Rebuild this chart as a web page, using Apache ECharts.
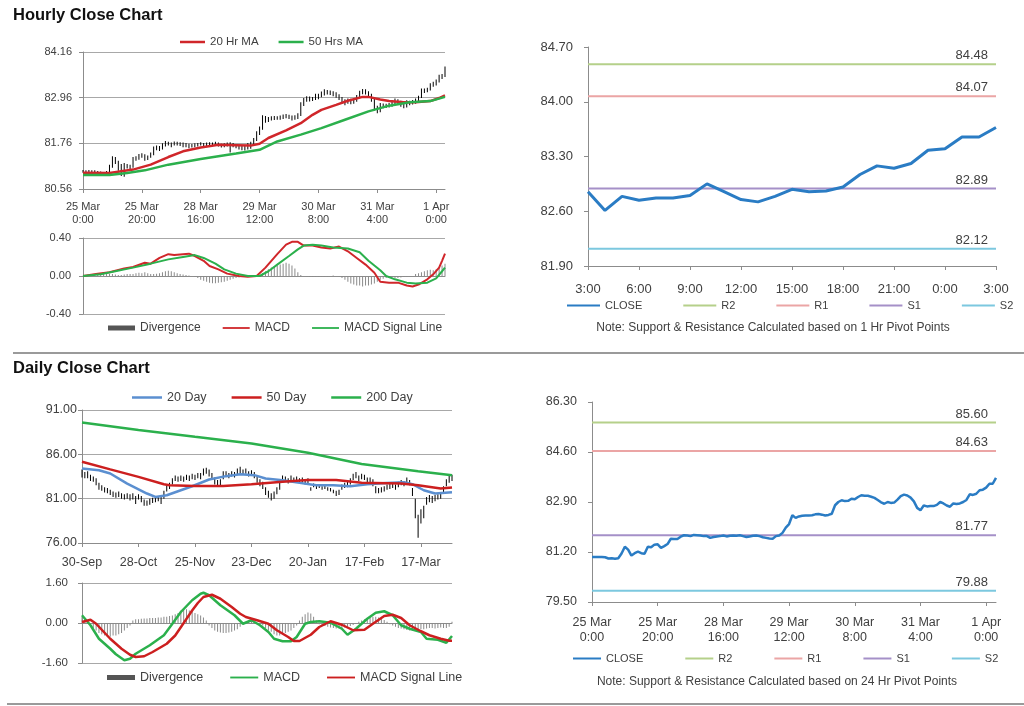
<!DOCTYPE html>
<html><head><meta charset="utf-8">
<script src="https://cdn.jsdelivr.net/npm/echarts@6/dist/echarts.min.js"></script>
<style>html,body{margin:0;padding:0;background:#fff}#c{width:1024px;height:706px}</style>
</head><body><div id="c"></div>
<script>
// ---------------- DATA ----------------
const hourlyTickLabels = ['25 Mar\n0:00','25 Mar\n20:00','28 Mar\n16:00','29 Mar\n12:00','30 Mar\n8:00','31 Mar\n4:00','1 Apr\n0:00'];
const pivotTickLabels = ['3:00','6:00','9:00','12:00','15:00','18:00','21:00','0:00','3:00'];
const dailyTickLabels = ['30-Sep','28-Oct','25-Nov','23-Dec','20-Jan','17-Feb','17-Mar'];

const hourlyPriceTicks = [80.56, 81.76, 82.96, 84.16];
const hourlyMacdTicks = [-0.4, 0, 0.4];
const pivotHourTicks = [81.9, 82.6, 83.3, 84.0, 84.7];
const dailyPriceTicks = [76, 81, 86, 91];
const dailyMacdTicks = [-1.6, 0, 1.6];
const pivotDayTicks = [79.5, 81.2, 82.9, 84.6, 86.3];

const hourlyClose = [81.03,81.03,81.03,81.03,81.02,80.98,80.99,80.97,80.99,81.15,
 81.38,81.28,81.08,81.16,81.21,81.16,81.14,81.38,81.36,81.45,
 81.46,81.34,81.40,81.47,81.65,81.64,81.64,81.72,81.77,81.76,
 81.74,81.78,81.77,81.76,81.74,81.74,81.68,81.71,81.73,81.74,
 81.76,81.73,81.75,81.76,81.75,81.77,81.74,81.71,81.73,81.75,
 81.76,81.74,81.70,81.68,81.66,81.65,81.74,81.76,81.85,82.03,
 82.15,82.45,82.36,82.41,82.43,82.44,82.44,82.45,82.48,82.49,
 82.47,82.44,82.46,82.50,82.79,82.90,82.96,82.93,82.94,83.01,
 82.99,83.07,83.13,83.11,83.11,83.08,83.04,82.97,82.89,82.84,
 82.90,82.87,82.88,82.98,83.10,83.15,83.12,83.05,82.92,82.70,
 82.62,82.78,82.75,82.76,82.76,82.80,82.90,82.85,82.78,82.74,
 82.85,82.83,82.85,82.90,82.97,83.16,83.14,83.18,83.30,83.32,
 83.39,83.52,83.52,83.72];
const hourlyHigh = [81.06,81.05,81.06,81.05,81.05,81.03,81.02,81.01,81.03,81.20,
 81.42,81.40,81.30,81.22,81.24,81.22,81.20,81.40,81.42,81.48,
 81.50,81.47,81.44,81.52,81.68,81.70,81.69,81.76,81.82,81.80,
 81.78,81.81,81.80,81.79,81.78,81.77,81.75,81.74,81.76,81.77,
 81.79,81.77,81.78,81.79,81.78,81.80,81.78,81.75,81.76,81.78,
 81.79,81.77,81.74,81.72,81.70,81.69,81.77,81.80,81.90,82.08,
 82.20,82.50,82.48,82.45,82.47,82.48,82.47,82.49,82.52,82.53,
 82.51,82.49,82.50,82.55,82.84,82.95,83.00,82.99,82.98,83.06,
 83.06,83.12,83.18,83.16,83.15,83.13,83.10,83.05,82.98,82.92,
 82.94,82.93,82.93,83.03,83.14,83.19,83.18,83.13,83.06,82.95,
 82.75,82.82,82.81,82.80,82.82,82.85,82.94,82.92,82.88,82.80,
 82.89,82.88,82.90,82.94,83.01,83.20,83.20,83.22,83.34,83.38,
 83.44,83.56,83.58,83.78];
const hourlyLow = [80.99,81.00,81.00,80.99,80.99,80.96,80.96,80.95,80.96,80.98,
 81.12,81.22,81.04,80.90,80.88,81.10,81.08,81.12,81.30,81.33,
 81.38,81.30,81.32,81.38,81.45,81.58,81.56,81.60,81.68,81.70,
 81.66,81.70,81.70,81.69,81.66,81.66,81.63,81.65,81.66,81.68,
 81.70,81.67,81.69,81.70,81.69,81.71,81.68,81.65,81.66,81.68,
 81.52,81.66,81.63,81.60,81.58,81.57,81.60,81.62,81.70,81.82,
 81.98,82.12,82.30,82.32,82.36,82.37,82.38,82.38,82.40,82.42,
 82.40,82.36,82.38,82.40,82.48,82.74,82.85,82.86,82.87,82.90,
 82.92,82.97,83.02,83.04,83.03,83.00,82.96,82.90,82.80,82.76,
 82.80,82.79,82.80,82.85,82.95,83.05,83.04,82.97,82.85,82.62,
 82.55,82.58,82.68,82.69,82.70,82.72,82.76,82.78,82.72,82.68,
 82.70,82.76,82.78,82.80,82.86,82.95,83.08,83.10,83.15,83.25,
 83.28,83.36,83.45,83.50];
const hourlyMA20 = [[0,80.99],[9,80.98],[17,81.07],[23,81.2],[29,81.4],[34,81.55],[40,81.65],[46,81.72],[52,81.71],[57,81.7],[60,81.75],[63,81.9],[69,82.1],[74,82.29],[78,82.51],[81,82.64],[86,82.77],[90,82.88],[95,82.98],[97,82.98],[101,82.91],[104,82.87],[109,82.84],[113,82.84],[118,82.87],[121,82.95],[123,83.02]];
const hourlyMA50 = [[0,80.93],[9,80.93],[15,80.98],[21,81.05],[29,81.2],[40,81.35],[52,81.49],[60,81.59],[66,81.81],[74,81.99],[81,82.16],[89,82.38],[97,82.6],[104,82.75],[111,82.84],[118,82.87],[123,82.98]];
const hourlyDivergence = [0,0,0.005,0.01,
 0.01,0.015,0.02,0.02,0.025,0.02,0.02,0.015,0.01,0.01,0.015,0.02,0.02,0.02,0.03,0.035,0.03,
 0.04,0.03,0.02,0.02,0.025,0.03,0.04,0.05,0.055,0.05,0.04,0.03,0.02,0.015,0.01,
 0.005,0,-0.01,
 -0.02,-0.04,-0.05,-0.06,-0.07,-0.075,-0.075,-0.07,-0.065,-0.06,-0.05,-0.04,-0.03,-0.02,
 -0.015,-0.01,-0.01,-0.005,0,0,0.005,0.01,
 0.03,0.05,0.07,0.09,0.1,0.11,0.12,0.13,0.14,0.13,0.11,0.08,0.04,
 0.01,0,-0.005,-0.01,-0.01,-0.01,-0.005,-0.01,-0.01,-0.005,0,0.005,0,-0.01,-0.02,
 -0.04,-0.06,-0.08,-0.09,-0.1,-0.1,-0.11,-0.1,-0.1,-0.09,-0.08,-0.06,-0.04,-0.03,
 -0.02,-0.02,-0.015,-0.02,-0.02,-0.015,-0.01,-0.01,-0.005,0,0.02,
 0.03,0.04,0.05,0.06,0.065,0.06,0.07,0.09,0.11,0.13];
const hourlyMacd = [[0,0],[5,0.025],[9,0.04],[14,0.08],[17,0.095],[21,0.14],[23,0.13],[26,0.19],[29,0.23],[31,0.22],[34,0.23],[36,0.235],[38,0.21],[41,0.16],[43,0.105],[46,0.07],[49,0.025],[53,0],[56,-0.007],[59,0],[62,0.088],[64,0.16],[66,0.23],[69,0.33],[71,0.36],[73,0.36],[75,0.32],[78,0.32],[81,0.3],[84,0.29],[87,0.31],[90,0.26],[93,0.19],[96,0.12],[99,0.035],[101,-0.06],[104,-0.07],[107,-0.07],[110,-0.1],[112,-0.11],[114,-0.09],[117,-0.035],[119,0.018],[121,0.088],[122,0.16],[123,0.235]];
const hourlySignal = [[0,0],[6,0.018],[11,0.05],[17,0.088],[23,0.13],[29,0.175],[34,0.2],[38,0.22],[41,0.19],[45,0.13],[48,0.07],[52,0.025],[56,0],[60,0],[63,0.05],[66,0.12],[70,0.21],[73,0.28],[75,0.32],[78,0.33],[81,0.32],[85,0.3],[90,0.29],[94,0.25],[97,0.16],[101,0.06],[103,0],[106,-0.035],[110,-0.07],[113,-0.08],[117,-0.07],[120,-0.025],[122,0.05],[123,0.088]];

const pivotHourClose = [82.85,82.61,82.79,82.74,82.77,82.77,82.80,82.95,82.85,82.75,82.72,82.79,82.88,82.85,82.86,82.91,83.07,83.18,83.15,83.21,83.38,83.40,83.55,83.55,83.67];
const pivotNames = ['R2','R1','S1','S2'];
const hourlyPivotValues = [84.48, 84.07, 82.89, 82.12];
const dailyPivotValues = [85.60, 84.63, 81.77, 79.88];

const dailyHigh = [84.3,84.0,84.1,83.7,83.5,83.3,82.8,82.5,82.3,82.2,
 82.0,81.8,81.7,81.8,81.6,81.5,81.6,81.5,81.6,81.3,
 81.5,81.3,80.9,80.8,81.0,81.1,81.2,81.3,81.3,81.9,
 82.6,82.8,83.3,83.6,83.5,83.6,83.5,83.7,83.6,83.8,
 83.7,83.9,83.9,84.4,84.5,84.3,83.9,83.4,83.1,83.2,
 84.1,84.1,83.9,84.1,84.0,84.4,84.6,84.3,84.4,84.1,
 84.2,84.0,83.5,83.2,82.9,82.3,81.9,81.6,81.8,82.3,
 82.8,83.6,83.5,83.3,83.6,83.4,83.5,83.3,83.4,83.2,
 83.3,82.3,82.7,82.5,82.6,82.4,82.5,82.3,82.2,82.0,
 81.9,82.0,82.6,82.8,82.9,83.3,83.8,84.0,83.6,83.8,
 83.7,83.4,83.4,83.2,82.4,82.2,82.3,82.4,82.6,82.7,
 82.8,82.6,82.9,83.1,83.0,83.4,83.1,82.2,81.0,79.2,
 79.8,80.2,81.2,81.4,81.3,81.4,81.5,81.6,82.4,83.2,
 83.6,83.7];
const dailyLow = [83.4,83.3,83.3,83.0,82.9,82.5,82.0,81.9,81.7,81.6,
 81.4,81.2,81.1,81.2,81.0,80.9,81.0,80.8,80.9,80.4,
 80.9,80.6,80.2,80.2,80.3,80.5,80.6,80.7,80.4,81.0,
 81.8,82.1,82.6,83.0,82.9,83.0,82.9,83.1,83.0,83.2,
 83.1,83.3,83.2,83.6,83.8,83.5,83.1,82.6,82.4,82.4,
 83.2,83.5,83.3,83.5,83.4,83.7,83.9,83.7,83.8,83.5,
 83.6,83.3,82.8,82.4,82.1,81.4,81.1,80.8,81.0,81.5,
 82.0,82.9,82.9,82.7,83.0,82.8,82.9,82.7,82.8,82.6,
 82.7,81.9,82.3,82.1,82.2,82.0,82.1,81.9,81.8,81.6,
 81.3,81.4,82.0,82.2,82.3,82.6,83.1,83.3,83.0,83.2,
 83.1,82.7,82.8,82.4,81.6,81.6,81.7,81.8,82.0,82.1,
 82.2,82.0,82.3,82.5,82.4,82.7,82.5,81.3,78.8,76.6,
 78.2,78.8,80.3,80.6,80.5,80.7,80.9,81.0,81.6,82.4,
 82.8,83.0];
const daily20 = [[0,84.4],[6,84.2],[10,83.84],[16,82.7],[23,81.58],[26,81.2],[30,81.39],[35,81.95],[39,82.4],[45,83.16],[51,83.54],[56,83.76],[61,83.65],[65,83.27],[71,83.08],[77,82.78],[83,82.52],[89,82.52],[95,82.4],[101,82.63],[108,82.78],[114,82.85],[117,82.63],[121,81.95],[125,81.58],[131,81.73]];
const daily50 = [[0,85.16],[10,84.3],[20,83.46],[29,82.63],[31,82.52],[40,82.44],[50,82.44],[60,82.63],[71,82.9],[80,83.1],[90,83.1],[99,82.8],[113,82.7],[119,82.52],[127,82.14],[131,82.26]];
const daily200 = [[0,89.6],[20,88.74],[40,87.98],[60,87.23],[80,86.18],[99,84.9],[119,84.1],[131,83.65]];
const dailyDivergence = [0.25,0.15,0,
 -0.1,-0.2,-0.3,-0.4,-0.45,-0.5,-0.55,-0.55,-0.5,-0.5,-0.45,-0.4,-0.3,-0.2,-0.1,
 0.1,0.15,0.15,0.17,0.18,0.18,0.2,0.2,0.2,0.22,0.22,0.25,0.25,0.28,0.3,0.35,0.4,0.5,0.55,0.55,0.5,
 0.45,0.4,0.35,0.3,0.22,0.1,
 -0.1,-0.2,-0.3,-0.35,-0.38,-0.4,-0.4,-0.38,-0.35,-0.3,-0.25,-0.15,-0.05,
 0.05,0.1,0.08,0.05,0,-0.05,
 -0.1,-0.2,-0.3,-0.35,-0.45,-0.5,-0.5,-0.45,-0.4,-0.35,-0.3,-0.2,-0.1,
 0.1,0.25,0.35,0.42,0.38,0.25,0.1,
 -0.05,-0.1,-0.12,-0.15,-0.18,-0.2,-0.22,-0.22,-0.2,-0.18,-0.15,-0.12,-0.08,-0.03,
 0.05,0.1,0.15,0.2,0.22,0.25,0.25,0.22,0.18,0.12,0.05,
 -0.05,-0.1,-0.15,-0.2,-0.22,-0.25,-0.28,-0.3,-0.3,-0.3,-0.28,-0.25,-0.25,-0.22,-0.2,-0.2,-0.22,-0.2,-0.18,-0.2,-0.2,-0.15,
 0.05];
const dailyMacd = [[0,0.31],[3,-0.09],[6,-0.63],[10,-1.03],[12,-1.25],[15,-1.49],[17,-1.43],[19,-1.23],[24,-0.89],[29,-0.49],[32,-0.03],[35,0.44],[39,0.91],[42,1.17],[43,1.21],[45,1.11],[49,0.71],[54,0.31],[57,-0.03],[60,0.11],[63,-0.09],[66,-0.36],[68,-0.63],[71,-0.73],[74,-0.73],[76,-0.56],[79,-0.03],[81,0.04],[84,0.07],[88,0.01],[92,-0.23],[94,-0.47],[97,-0.23],[101,0.17],[104,0.41],[107,0.47],[110,0.31],[113,-0.09],[116,-0.23],[120,-0.36],[122,-0.63],[126,-0.67],[129,-0.79],[131,-0.52]];
const dailySignal = [[0,0.04],[3,0.13],[5,-0.03],[10,-0.63],[14,-1.03],[17,-1.27],[19,-1.36],[22,-1.33],[25,-1.16],[30,-0.83],[33,-0.5],[36,0.0],[39,0.5],[41,0.8],[43,1.04],[46,1.13],[49,0.97],[53,0.64],[56,0.37],[58,0.24],[62,0.11],[66,-0.03],[69,-0.29],[73,-0.56],[75,-0.72],[77,-0.72],[81,-0.47],[84,-0.16],[88,0.07],[92,-0.07],[96,-0.29],[100,-0.27],[103,-0.03],[107,0.28],[110,0.33],[113,0.2],[116,-0.09],[120,-0.33],[123,-0.49],[127,-0.63],[130,-0.71],[131,-0.71]];

// ---------------- STYLE ----------------
const FONT = "'Liberation Sans', Arial, Helvetica, sans-serif";
const TXT = '#404040';
const AX = '#8c8c8c';
const GRIDC = '#a8a8a8';
const RED = '#d0262a', GREEN = '#2bb04c', BLUE = '#2a7cc4', LBLUE = '#5b8fd0';
const pivotColors = ['#b5d08a', '#eba5a5', '#a590c8', '#7cc8df'];
// thin line icon inside a 5px-high legend box (invisible points keep the box height)
const LINE_ICON_5 = 'path://M0,0L0,0M0,5L0,5M0,1.5L30,1.5L30,3.5L0,3.5Z';

const hourIdx = hourlyClose.map((_, i) => String(i));
const dayIdx = dailyHigh.map((_, i) => String(i));
const pivIdx = pivotHourClose.map((_, i) => String(i));

function xCat(grid, data, step, labels, fs, margin, lh, showLabels) {
  const every = (i) => i % step === 0;
  return {
    gridIndex: grid, type: 'category', data, boundaryGap: false,
    axisLine: { show: true, onZero: !showLabels, lineStyle: { color: AX, width: 1 } },
    axisTick: { show: showLabels, interval: every, length: 4, lineStyle: { color: AX } },
    axisLabel: { show: showLabels, interval: every, formatter: (v, i) => labels[i / step] || '',
      color: TXT, fontSize: fs, fontFamily: FONT, margin, lineHeight: lh },
    splitLine: { show: false }
  };
}
function yVal(grid, ticks, fs, margin, split) {
  return {
    gridIndex: grid, type: 'value', min: ticks[0], max: ticks[ticks.length - 1],
    axisLine: { show: true, lineStyle: { color: AX, width: 1 } },
    axisTick: { show: true, length: 4, customValues: ticks, lineStyle: { color: AX } },
    axisLabel: { customValues: ticks, formatter: (v) => v.toFixed(2), color: TXT, fontSize: fs, fontFamily: FONT, margin },
    splitLine: { show: split, lineStyle: { color: GRIDC, width: 1 } }
  };
}
function ln(name, g, data, color, width) {
  return { type: 'line', name, xAxisIndex: g, yAxisIndex: g, data, symbol: 'none', showSymbol: false,
    lineStyle: { color, width }, itemStyle: { color }, silent: true, animation: false, z: 3 };
}
// high-low range bars: a transparent base up to the low, stacked with the visible low→high span
function rangeBars(stackId, g, low, high) {
  return [
    { type: 'bar', name: stackId + ' base', stack: stackId, xAxisIndex: g, yAxisIndex: g, barWidth: 1, silent: true,
      data: low, itemStyle: { color: 'rgba(0,0,0,0)' }, z: 1 },
    { type: 'bar', name: stackId + ' span', stack: stackId, xAxisIndex: g, yAxisIndex: g, barWidth: 1, silent: true,
      data: high.map((h, i) => Math.round((h - low[i]) * 1000) / 1000), itemStyle: { color: '#000' }, z: 1 }
  ];
}
function pivotSeries(g, lastIdx, values, suffix) {
  return pivotNames.map((n, k) => {
    const s = ln(n + suffix, g, [[0, values[k]], [lastIdx, values[k]]], pivotColors[k], 2);
    s.z = 2;
    s.endLabel = { show: true, formatter: () => values[k].toFixed(2), align: 'right', verticalAlign: 'bottom',
      offset: [-8, -2], distance: 0, color: TXT, fontSize: 13, fontFamily: FONT };
    return s;
  });
}
function legend(names, left, top, iw, ih, gap, fs, icons) {
  return { show: true, left, top, padding: 0, itemWidth: iw, itemHeight: ih, itemGap: gap, selectedMode: false,
    data: names.map((n, i) => {
      const ic = icons[i];
      return ic === 'bar' ? { name: n, icon: 'rect', itemStyle: { color: '#555' } } : { name: n, icon: ic };
    }),
    formatter: (n) => n.trim(), textStyle: { color: TXT, fontSize: fs, fontFamily: FONT } };
}

const grids = [
  { left: 83, top: 52, width: 362, height: 137 },
  { left: 83, top: 238, width: 362, height: 76 },
  { left: 588, top: 47, width: 408, height: 219 },
  { left: 82, top: 410, width: 370, height: 133 },
  { left: 82, top: 583, width: 370, height: 80 },
  { left: 592, top: 402, width: 404, height: 200 }
];

const option = {
  animation: false,
  backgroundColor: '#ffffff',
  textStyle: { fontFamily: FONT },
  grid: grids.map(g => Object.assign({ containLabel: false }, g)),
  xAxis: [
    xCat(0, hourIdx, 20, hourlyTickLabels, 11, 11, 13, true),
    xCat(1, hourIdx, 20, hourlyTickLabels, 11, 8, 13, false),
    xCat(2, pivIdx, 3, pivotTickLabels, 13, 16, 15, true),
    xCat(3, dayIdx, 20, dailyTickLabels, 12.5, 12, 15, true),
    xCat(4, dayIdx, 20, dailyTickLabels, 12, 8, 15, false),
    xCat(5, hourIdx, 20, hourlyTickLabels, 12.5, 13, 15, true)
  ],
  yAxis: [
    yVal(0, hourlyPriceTicks, 11, 11, true),
    yVal(1, hourlyMacdTicks, 11, 12, true),
    yVal(2, pivotHourTicks, 13, 15, false),
    yVal(3, dailyPriceTicks, 12.5, 5, true),
    yVal(4, dailyMacdTicks, 11.5, 14, true),
    yVal(5, pivotDayTicks, 12.5, 15, false)
  ],
  legend: [
    legend(['20 Hr MA', '50 Hrs MA'], 180, 36, 25, 2.5, 20, 11.5, ['rect', 'rect']),
    legend(['Divergence', 'MACD', 'MACD Signal Line'], 108, 322, 27, 5, 22, 12, ['bar', LINE_ICON_5, LINE_ICON_5]),
    legend(['CLOSE', 'R2', 'R1', 'S1', 'S2'], 567, 300, 33, 2, 41, 11, ['rect', 'rect', 'rect', 'rect', 'rect']),
    legend(['20 Day', '50 Day', '200 Day'], 132, 391, 30, 2.5, 25, 12.5, ['rect', 'rect', 'rect']),
    legend(['Divergence ', 'MACD ', 'MACD Signal Line '], 107, 671, 28, 5, 27, 12.5, ['bar', LINE_ICON_5, LINE_ICON_5]),
    legend(['CLOSE ', 'R2 ', 'R1 ', 'S1 ', 'S2 '], 573, 653, 28, 2, 42, 11, ['rect', 'rect', 'rect', 'rect', 'rect'])
  ],
  series: [
    ...rangeBars('hourly', 0, hourlyLow, hourlyHigh),
    ln('20 Hr MA', 0, hourlyMA20, RED, 2.5),
    ln('50 Hrs MA', 0, hourlyMA50, GREEN, 2.5),
    { type: 'bar', name: 'Divergence', xAxisIndex: 1, yAxisIndex: 1, data: hourlyDivergence, barWidth: 1,
      itemStyle: { color: '#8a8a8a' }, silent: true },
    ln('MACD', 1, hourlyMacd, RED, 2),
    ln('MACD Signal Line', 1, hourlySignal, GREEN, 2),
    ...pivotSeries(2, pivotHourClose.length - 1, hourlyPivotValues, ''),
    Object.assign(ln('CLOSE', 2, pivotHourClose, BLUE, 3), { z: 4 }),
    ...rangeBars('daily', 3, dailyLow, dailyHigh),
    ln('20 Day', 3, daily20, LBLUE, 2.5),
    ln('50 Day', 3, daily50, '#cc1f1f', 2.5),
    ln('200 Day', 3, daily200, GREEN, 2.5),
    { type: 'bar', name: 'Divergence ', xAxisIndex: 4, yAxisIndex: 4, data: dailyDivergence, barWidth: 1,
      itemStyle: { color: '#8a8a8a' }, silent: true },
    ln('MACD ', 4, dailyMacd, GREEN, 2.5),
    ln('MACD Signal Line ', 4, dailySignal, '#cc1f1f', 2.5),
    ...pivotSeries(5, hourlyClose.length - 1, dailyPivotValues, ' '),
    Object.assign(ln('CLOSE ', 5, hourlyClose, BLUE, 2.5), { z: 4 })
  ],
  graphic: [
    { type: 'text', left: 13, top: 7, style: { text: 'Hourly Close Chart', fontSize: 16.5, fontWeight: 'bold', fontFamily: FONT, fill: '#111' } },
    { type: 'text', left: 13, top: 360, style: { text: 'Daily Close Chart', fontSize: 16.5, fontWeight: 'bold', fontFamily: FONT, fill: '#111' } },
    { type: 'line', shape: { x1: 13, y1: 353, x2: 1024, y2: 353 }, style: { stroke: '#9a9a9a', lineWidth: 2 } },
    { type: 'line', shape: { x1: 7, y1: 704, x2: 1024, y2: 704 }, style: { stroke: '#9a9a9a', lineWidth: 2 } },
    { type: 'text', x: 773, y: 328, style: { text: 'Note: Support & Resistance Calculated based on 1 Hr Pivot Points', fontSize: 12, fontFamily: FONT, fill: TXT, align: 'center', verticalAlign: 'middle' } },
    { type: 'text', x: 777, y: 682, style: { text: 'Note: Support & Resistance Calculated based on 24 Hr Pivot Points', fontSize: 12, fontFamily: FONT, fill: TXT, align: 'center', verticalAlign: 'middle' } }
  ]
};

const chart = echarts.init(document.getElementById('c'), null, { renderer: 'canvas' });
chart.setOption(option);
</script></body></html>
